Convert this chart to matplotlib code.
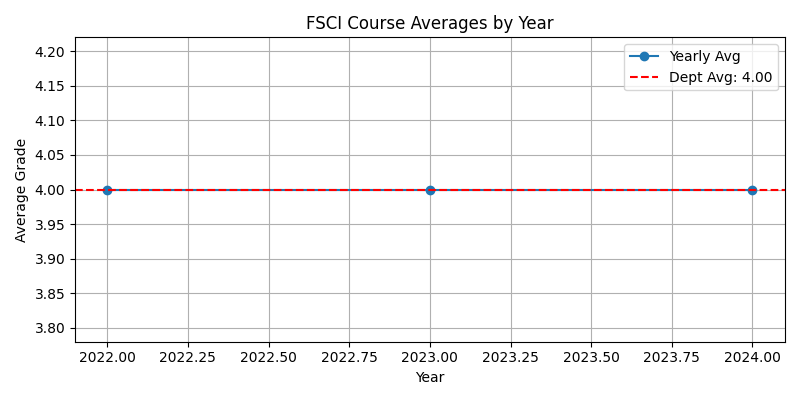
import matplotlib
matplotlib.use("Agg")
import matplotlib.pyplot as plt

years = [2022, 2023, 2024]
yearly_avg = [4.0, 4.0, 4.0]
dept_avg = 4.0

plt.figure(figsize=(8, 4))
plt.plot(years, yearly_avg, marker='o', label='Yearly Avg')
plt.axhline(dept_avg, color='red', linestyle='--', label=f'Dept Avg: {dept_avg:.2f}')
plt.title('FSCI Course Averages by Year')
plt.xlabel('Year')
plt.ylabel('Average Grade')
plt.grid(True)
plt.legend()
plt.tight_layout()
plt.savefig('out.png', dpi=100)
